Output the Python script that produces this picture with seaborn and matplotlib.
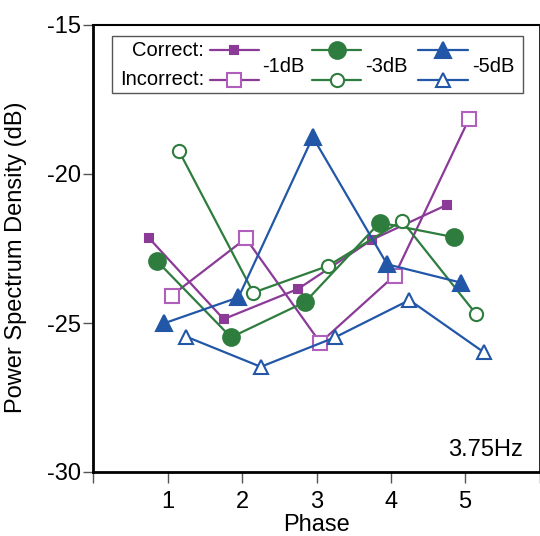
import numpy as np
import pandas as pd
import seaborn as sns
import matplotlib.pyplot as plt

# Phase index and the per-condition horizontal dodge used in the figure
phase = [1, 2, 3, 4, 5]
dodge = [-0.25, 0.05, -0.15, 0.15, -0.05, 0.25]

# Power spectrum density (dB) at 3.75Hz
correct_1db = [-22.16, -24.87, -23.86, -22.20, -21.04]
incorrect_1db = [-24.08, -22.16, -25.66, -23.41, -18.16]
correct_3db = [-22.91, -25.48, -24.29, -21.63, -22.12]
incorrect_3db = [-19.23, -23.98, -23.09, -21.57, -24.71]
correct_5db = [-25.01, -24.14, -18.76, -23.03, -23.65]
incorrect_5db = [-25.46, -26.47, -25.48, -24.23, -25.98]

purple = "#8B3A98"
purple_light = "#B060BC"
green = "#2F7D3E"
blue = "#2257A8"

sns.set_style("white")
plt.rcParams["font.family"] = ["Liberation Sans", "DejaVu Sans"]
plt.rcParams["axes.unicode_minus"] = False
plt.rcParams["text.color"] = "black"
plt.rcParams["axes.labelcolor"] = "black"
plt.rcParams["xtick.labelcolor"] = "black"
plt.rcParams["ytick.labelcolor"] = "black"

fig = plt.figure(figsize=(5.4, 5.36), dpi=100)
ax = fig.add_axes([93.5 / 540, (536 - 472) / 536, 446 / 540, 447 / 536])

series = [
    (correct_1db, purple, purple, "s", 6, purple),
    (incorrect_1db, purple, purple_light, "s", 10, "white"),
    (correct_3db, green, green, "o", 12, green),
    (incorrect_3db, green, green, "o", 9.5, "white"),
    (correct_5db, blue, blue, "^", 12, blue),
    (incorrect_5db, blue, blue, "^", 10, "white"),
]

for (vals, lc, ec, mk, ms, fc), dx in zip(series, dodge):
    df = pd.DataFrame({"phase": np.array(phase) + dx, "psd": vals})
    sns.lineplot(data=df, x="phase", y="psd", ax=ax, color=lc, lw=1.6,
                 marker=mk, markersize=ms, markerfacecolor=fc,
                 markeredgecolor=ec, markeredgewidth=1.5, legend=False)

ax.set_xlim(0, 6)
ax.set_ylim(-30, -15)
ax.set_xticks(range(0, 7))
ax.set_xticklabels(["", "1", "2", "3", "4", "5", ""])
ax.set_yticks([-30, -25, -20, -15])
ax.tick_params(axis="x", direction="out", length=8, width=1, color="#555555",
               labelsize=17, pad=6, bottom=True)
ax.tick_params(axis="y", direction="out", length=7, width=1, color="#555555",
               labelsize=17, pad=2, left=True)

for side, lw in [("left", 2), ("bottom", 2), ("top", 1.5), ("right", 1.2)]:
    ax.spines[side].set_visible(True)
    ax.spines[side].set_color("black")
    ax.spines[side].set_linewidth(lw)

ax.set_xlabel("Phase", fontsize=17)
ax.set_ylabel("Power Spectrum Density (dB)", fontsize=17)
ax.xaxis.set_label_coords(0.5, -0.095)
ax.yaxis.set_label_coords(-0.15, 0.48)

ax.text(0.963, 0.049, "3.75Hz", transform=ax.transAxes, ha="right",
        va="center", fontsize=17)

# hand-built legend to match the two-row layout
box = plt.Rectangle((0.0415, 0.848), 0.9215, 0.127, transform=ax.transAxes,
                    fill=True, facecolor="white", edgecolor="#555555", lw=1,
                    zorder=5)
ax.add_patch(box)
row_y = [0.944, 0.877]
ax.text(0.248, row_y[0], "Correct:", transform=ax.transAxes, ha="right",
        va="center", fontsize=14.5, zorder=6)
ax.text(0.248, row_y[1], "Incorrect:", transform=ax.transAxes, ha="right",
        va="center", fontsize=14.5, zorder=6)
groups = [(0.261, 0.371, "-1dB"), (0.490, 0.600, "-3dB"), (0.728, 0.840, "-5dB")]
for i, (x0, x1, lab) in enumerate(groups):
    for j in range(2):
        lc, ec, mk, ms, fc = series[2 * i + j][1:]
        y = row_y[j]
        ax.plot([x0, x1], [y, y], color=lc, lw=1.6, transform=ax.transAxes,
                zorder=6)
        ax.plot([(x0 + x1) / 2], [y], marker=mk, markersize=ms,
                markerfacecolor=fc, markeredgecolor=ec, markeredgewidth=1.5,
                transform=ax.transAxes, zorder=7)
    ax.text(x1 + 0.008, 0.907, lab, transform=ax.transAxes, ha="left",
            va="center", fontsize=14.5, zorder=6)

fig.savefig("out.png", dpi=100)
